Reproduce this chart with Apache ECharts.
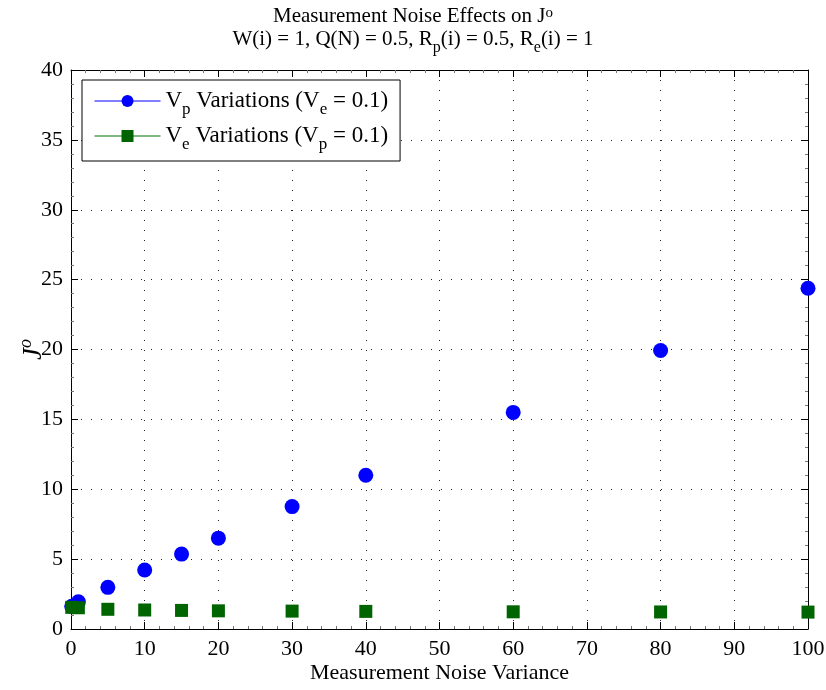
<!DOCTYPE html>
<html>
<head>
<meta charset="utf-8">
<script src="https://cdn.jsdelivr.net/npm/echarts@6/dist/echarts.min.js"></script>
<style>
  html, body { margin: 0; padding: 0; background: #fff; }
  #chart { width: 826px; height: 690px; }
</style>
</head>
<body>
<div id="chart"></div>
<script>
// Noise variance values on the horizontal axis
const noiseVariance = [0.1, 1, 5, 10, 15, 20, 30, 40, 60, 80, 100];
// Cost J^o when V_p varies (V_e = 0.1)
const jVpVariations = [1.62, 1.95, 2.98, 4.22, 5.36, 6.50, 8.76, 11.0, 15.5, 19.93, 24.38];
// Cost J^o when V_e varies (V_p = 0.1)
const jVeVariations = [1.55, 1.52, 1.41, 1.36, 1.33, 1.30, 1.28, 1.26, 1.23, 1.22, 1.21];

const xTicks = [0, 10, 20, 30, 40, 50, 60, 70, 80, 90, 100];
const yTicks = [0, 5, 10, 15, 20, 25, 30, 35, 40];

const FONT = 'Liberation Serif';

const pairs = (xs, ys) => xs.map((x, i) => [x, ys[i]]);

const chart = echarts.init(document.getElementById('chart'), null, { renderer: 'canvas' });

const gridLine = { show: true, lineStyle: { color: '#222', width: 1, type: [1, 9] } };
const tickCommon = { show: true, inside: true, length: 7, lineStyle: { color: '#000', width: 1 } };
const minorCommon = { show: true, splitNumber: 5, length: 3, lineStyle: { color: '#777', width: 1 } };

const legendRich = {
  n: { fontFamily: FONT, fontSize: 23, color: '#000', verticalAlign: 'top', lineHeight: 24 },
  s: { fontFamily: FONT, fontSize: 17, color: '#000', verticalAlign: 'top', lineHeight: 24, padding: [12, 0, 0, 0] }
};

const option = {
  animation: false,
  backgroundColor: '#fff',
  title: [{
    left: 'center',
    top: 1,
    text: '{n|Measurement Noise Effects on J}{sup|o}\n{n|W(i) = 1, Q(N) = 0.5, R}{sb|p}{n|(i) = 0.5, R}{sb|e}{n|(i) = 1}',
    textStyle: {
      fontFamily: FONT,
      fontSize: 21,
      fontWeight: 'normal',
      color: '#000',
      rich: {
        n: { fontFamily: FONT, fontSize: 21, color: '#000', lineHeight: 23, verticalAlign: 'top' },
        sup: { fontFamily: FONT, fontSize: 15, color: '#000', lineHeight: 14, verticalAlign: 'top' },
        sb: { fontFamily: FONT, fontSize: 16, color: '#000', lineHeight: 23, verticalAlign: 'top', padding: [11, 0, 0, 0] }
      }
    }
  }],
  grid: { left: 71, right: 18, top: 70, bottom: 61, containLabel: false, outerBoundsMode: 'none' },
  legend: {
    left: 82,
    top: 80,
    orient: 'vertical',
    backgroundColor: '#fff',
    borderColor: '#000',
    borderWidth: 1,
    borderRadius: 0,
    padding: [9, 12, 8, 12],
    itemGap: 6,
    itemWidth: 66,
    itemHeight: 15,
    textStyle: { fontFamily: FONT, fontSize: 23, color: '#000', rich: legendRich },
    data: [
      { name: 'vp', lineStyle: { color: '#0000ff', width: 1, opacity: 1 } },
      { name: 've', lineStyle: { color: '#007000', width: 1, opacity: 1 } }
    ],
    formatter: function (name) {
      return name === 'vp'
        ? '{n|V}{s|p}{n| Variations (V}{s|e}{n| = 0.1)}'
        : '{n|V}{s|e}{n| Variations (V}{s|p}{n| = 0.1)}';
    }
  },
  xAxis: [{
    type: 'value',
    min: 0, max: 100, interval: 10,
    name: 'Measurement Noise Variance',
    nameLocation: 'middle',
    nameGap: 33,
    nameMoveOverlap: false,
    nameTextStyle: { fontFamily: FONT, fontSize: 22, color: '#000', verticalAlign: 'top' },
    axisLine: { show: true, onZero: false, lineStyle: { color: '#000', width: 1 } },
    axisTick: tickCommon,
    minorTick: minorCommon,
    axisLabel: { fontFamily: FONT, fontSize: 22, color: '#000', margin: 9,
      formatter: v => xTicks.includes(v) ? String(v) : '' },
    splitLine: gridLine
  }, {
    type: 'value',
    position: 'top',
    min: 0, max: 100, interval: 10,
    axisLine: { show: true, onZero: false, lineStyle: { color: '#000', width: 1 } },
    axisTick: tickCommon,
    minorTick: minorCommon,
    axisLabel: { show: false },
    splitLine: { show: false }
  }],
  yAxis: [{
    type: 'value',
    min: 0, max: 40, interval: 5,
    name: '{j|J}{o|o}',
    nameLocation: 'middle',
    nameGap: 24,
    nameMoveOverlap: false,
    nameRotate: 90,
    nameTextStyle: {
      fontFamily: FONT, fontSize: 26, color: '#000',
      rich: {
        j: { fontFamily: FONT, fontSize: 27, fontStyle: 'italic', color: '#000', verticalAlign: 'bottom', lineHeight: 30 },
        o: { fontFamily: FONT, fontSize: 18, fontStyle: 'italic', color: '#000', verticalAlign: 'top', lineHeight: 30, padding: [0, 0, 10, 0] }
      }
    },
    axisLine: { show: true, onZero: false, lineStyle: { color: '#000', width: 1 } },
    axisTick: tickCommon,
    minorTick: minorCommon,
    axisLabel: { fontFamily: FONT, fontSize: 22, color: '#000', margin: 8,
      formatter: v => yTicks.includes(v) ? String(v) : '' },
    splitLine: gridLine
  }, {
    type: 'value',
    position: 'right',
    min: 0, max: 40, interval: 5,
    axisLine: { show: true, onZero: false, lineStyle: { color: '#000', width: 1 } },
    axisTick: tickCommon,
    minorTick: minorCommon,
    axisLabel: { show: false },
    splitLine: { show: false }
  }],
  series: [{
    name: 'vp',
    type: 'line',
    data: pairs(noiseVariance, jVpVariations),
    symbol: 'circle',
    symbolSize: 15,
    itemStyle: { color: '#0000ff' },
    lineStyle: { opacity: 0, color: '#0000ff' },
    z: 3
  }, {
    name: 've',
    type: 'line',
    data: pairs(noiseVariance, jVeVariations),
    symbol: 'rect',
    symbolSize: 13,
    itemStyle: { color: '#006400' },
    lineStyle: { opacity: 0, color: '#007000' },
    z: 4
  }]
};

chart.setOption(option);
</script>
</body>
</html>
